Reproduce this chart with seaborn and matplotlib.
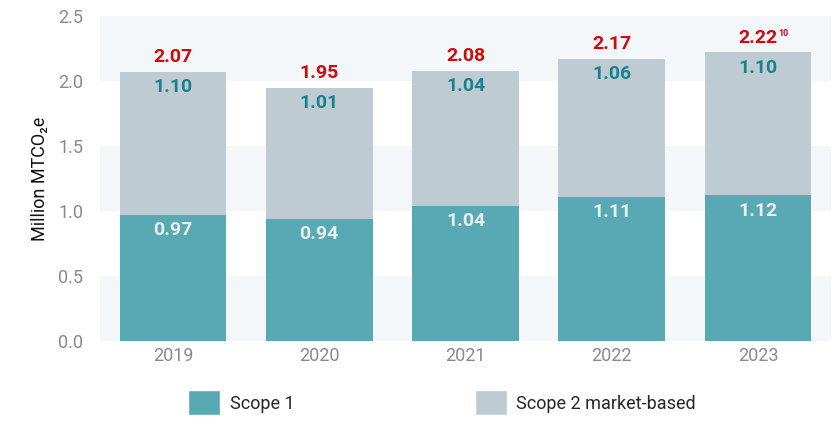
import matplotlib
matplotlib.use("Agg")
import matplotlib.pyplot as plt
from matplotlib.patches import Patch
import seaborn as sns
import pandas as pd

YEARS = ["2019", "2020", "2021", "2022", "2023"]
SCOPE1 = [0.97, 0.94, 1.04, 1.11, 1.12]
SCOPE2 = [1.10, 1.01, 1.04, 1.06, 1.10]
TOTAL = [2.07, 1.95, 2.08, 2.17, 2.22]
FOOTNOTES = ["", "", "", "", "10"]
Y_TICKS = [0.0, 0.5, 1.0, 1.5, 2.0, 2.5]

C_S1 = "#58A9B4"
C_S2 = "#BFCBD3"
C_TOTAL = "#D10A0A"
C_S2_TXT = "#16838F"
C_S1_TXT = "#E8EEF0"
BAND = "#F4F7FA"
TICK = "#8A8A8A"

sns.set_theme(style="white")
plt.rcParams["font.family"] = ["Roboto", "DejaVu Sans"]

df = pd.DataFrame({"year": YEARS, "scope1": SCOPE1, "scope2": SCOPE2, "total": TOTAL})

fig = plt.figure(figsize=(8.33, 4.21), dpi=100)
ax = fig.add_axes([100 / 833, 80 / 421, 731 / 833, 325 / 421])

# alternating bands behind the bars
for lo in Y_TICKS[::2]:
    ax.axhspan(lo, lo + 0.5, color=BAND, zorder=0, lw=0)

sns.barplot(data=df, x="year", y="total", color=C_S2, width=0.73, saturation=1,
            linewidth=0, ax=ax, zorder=2)
sns.barplot(data=df, x="year", y="scope1", color=C_S1, width=0.73, saturation=1,
            linewidth=0, ax=ax, zorder=3)

lbl = dict(ha="center", fontsize=14, fontweight="bold", zorder=5, textcoords="offset points")
for i, row in df.iterrows():
    ax.annotate(f"{row.total:.2f}", (i, row.total), xytext=(0, 4), va="bottom", color=C_TOTAL, **lbl)
    if FOOTNOTES[i]:
        ax.annotate(FOOTNOTES[i], (i, row.total), xytext=(14.5, 17), textcoords="offset points",
                    ha="left", va="top", color=C_TOTAL, fontsize=6.5, fontweight="bold", zorder=5)
    ax.annotate(f"{row.scope2:.2f}", (i, row.total), xytext=(0, -4.5), va="top", color=C_S2_TXT, **lbl)
    ax.annotate(f"{row.scope1:.2f}", (i, row.scope1), xytext=(0, -4.5), va="top", color=C_S1_TXT, **lbl)

ax.set_xlim(-0.5, 4.5)
ax.set_ylim(0, 2.5)
ax.set_yticks(Y_TICKS)
ax.set_yticklabels([f"{v:.1f}" for v in Y_TICKS])
ax.tick_params(axis="both", length=0, labelsize=13, labelcolor=TICK)
ax.tick_params(axis="y", pad=12)
ax.tick_params(axis="x", pad=4)
ax.set_xlabel("")
ax.set_ylabel("Million MTCO\u2082e", fontsize=13, color="#111111", labelpad=7)
for spine in ax.spines.values():
    spine.set_visible(False)
ax.grid(False)

handles = [Patch(facecolor=C_S1, label="Scope 1"),
           Patch(facecolor=C_S2, label="Scope 2 market-based")]
fig.legend(handles=handles, loc="upper left", bbox_to_anchor=(181 / 833, 1 - 383 / 421),
           ncol=2, frameon=False, fontsize=13, handlelength=1.75, handleheight=1.75,
           handletextpad=0.55, columnspacing=10.0, borderaxespad=0)

fig.savefig("out.png", dpi=100)
